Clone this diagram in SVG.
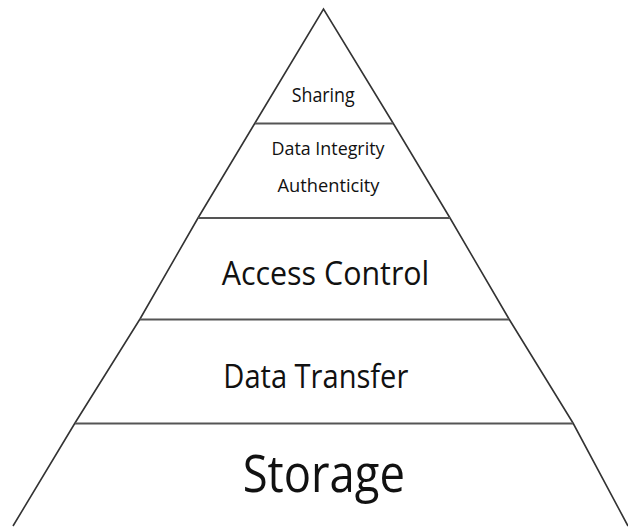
<svg xmlns="http://www.w3.org/2000/svg" width="628" height="527" viewBox="0 0 628 527">
<style>
.edge{fill:none;stroke:#333;stroke-width:1.6;stroke-linejoin:miter}
.div{stroke:#555;stroke-width:2}
text{font-family:"Open Sans","Noto Sans","Liberation Sans",sans-serif;fill:#111}
</style>
<rect width="628" height="527" fill="#fff"/>
<g id="connectors">
<polyline class="edge" points="13,526 75,423 140,319 198,218 255,123 323.5,9 393,123 450,218 509,319 573,423 628,526"/>
<line class="div" x1="255" y1="123.5" x2="393" y2="123.5"/>
<line class="div" x1="198" y1="218" x2="450" y2="218"/>
<line class="div" x1="140" y1="319.5" x2="509" y2="319.5"/>
<line class="div" x1="75" y1="423.5" x2="573" y2="423.5"/>
</g>
<g id="sharing"><text x="291.7" y="101.7" font-size="19.5" textLength="63" lengthAdjust="spacingAndGlyphs">Sharing</text></g>
<g id="integrity">
<text x="271.5" y="155" font-size="18" textLength="113" lengthAdjust="spacingAndGlyphs">Data Integrity</text>
<text x="277.5" y="192" font-size="18" textLength="102" lengthAdjust="spacingAndGlyphs">Authenticity</text>
</g>
<g id="access"><text x="221.7" y="285" font-size="33.5" textLength="207.6" lengthAdjust="spacingAndGlyphs">Access Control</text></g>
<g id="transfer"><text x="223.3" y="388.3" font-size="32.5" textLength="185" lengthAdjust="spacingAndGlyphs">Data Transfer</text></g>
<g id="storage"><text x="242.7" y="491.7" font-size="51" textLength="162.3" lengthAdjust="spacingAndGlyphs">Storage</text></g>
</svg>
